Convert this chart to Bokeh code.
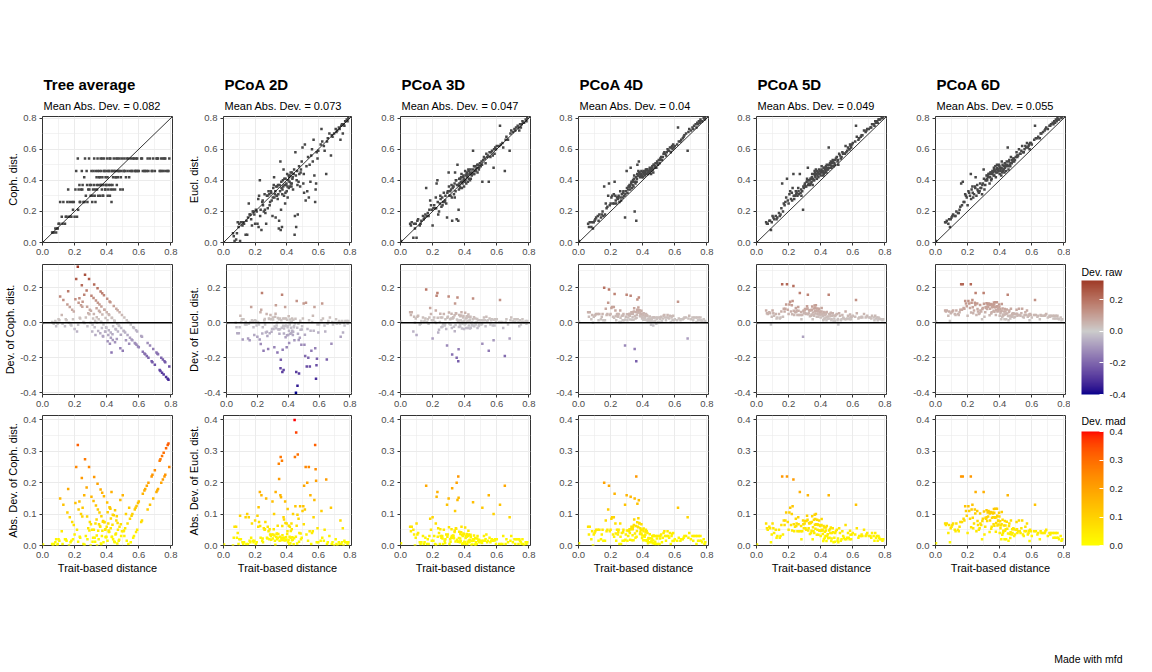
import numpy as np
from bokeh.plotting import figure
from bokeh.models import (Range1d, FixedTicker, PrintfTickFormatter, Slope, Span, Title,
                          LinearColorMapper, ColorBar, ColumnDataSource, Label)
from bokeh.layouts import row, column
from bokeh.embed import file_html
from bokeh.resources import INLINE

# ---------------- data ----------------
trait_dist = [0.003, 0.06, 0.07, 0.08, 0.085, 0.09, 0.10, 0.105, 0.11, 0.12, 0.13, 0.14, 0.15, 0.155,
              0.16, 0.165, 0.17, 0.18, 0.185, 0.19, 0.20, 0.205, 0.21, 0.22, 0.222, 0.225, 0.23, 0.235,
              0.24, 0.245, 0.25, 0.255, 0.26, 0.265, 0.27, 0.275, 0.28, 0.285, 0.29, 0.295, 0.30, 0.305,
              0.31, 0.315, 0.32, 0.322, 0.325, 0.33, 0.333, 0.337, 0.34, 0.343, 0.347, 0.35, 0.352, 0.355,
              0.36, 0.362, 0.364, 0.367, 0.37, 0.373, 0.376, 0.38, 0.383, 0.386, 0.39, 0.393, 0.396,
              0.40, 0.403, 0.406, 0.41, 0.413, 0.416, 0.42, 0.423, 0.426, 0.43, 0.433, 0.436, 0.44, 0.444,
              0.45, 0.452, 0.455, 0.46, 0.463, 0.466, 0.47, 0.475, 0.48, 0.485, 0.49, 0.50, 0.505, 0.51,
              0.515, 0.52, 0.53, 0.535, 0.54, 0.55, 0.555, 0.56, 0.57, 0.575, 0.58, 0.583, 0.586, 0.59,
              0.60, 0.62, 0.625, 0.64, 0.65, 0.66, 0.67, 0.68, 0.69, 0.70, 0.71, 0.72, 0.73, 0.74, 0.745,
              0.75, 0.755, 0.76, 0.77, 0.78, 0.79,
              0.065, 0.095, 0.125, 0.145, 0.175, 0.195, 0.215, 0.232, 0.248, 0.262,
              0.278, 0.292, 0.302, 0.312, 0.318, 0.328, 0.338, 0.345, 0.358, 0.366,
              0.372, 0.378, 0.385, 0.392, 0.398, 0.405, 0.412, 0.418, 0.425, 0.432,
              0.438, 0.447, 0.458, 0.468, 0.478, 0.488, 0.495, 0.508, 0.525, 0.545,
              0.565, 0.595, 0.615, 0.635, 0.655, 0.685, 0.715, 0.735, 0.765, 0.785]

coph_dist = [0.00, 0.065, 0.065, 0.09, 0.065, 0.09, 0.12, 0.12, 0.26, 0.165, 0.26, 0.12, 0.165, 0.26,
             0.34, 0.165, 0.26, 0.165, 0.26, 0.21, 0.165, 0.34, 0.46, 0.54, 0.21, 0.34, 0.37, 0.26,
             0.34, 0.46, 0.37, 0.26, 0.42, 0.54, 0.30, 0.46, 0.26, 0.34, 0.54, 0.37, 0.30, 0.46,
             0.26, 0.34, 0.37, 0.54, 0.30, 0.26, 0.46, 0.42, 0.34, 0.54, 0.30, 0.37, 0.42, 0.46,
             0.30, 0.54, 0.37, 0.46, 0.34, 0.42, 0.30, 0.37, 0.54, 0.46, 0.34, 0.42, 0.37,
             0.46, 0.54, 0.30, 0.34, 0.37, 0.46, 0.30, 0.54, 0.34, 0.26, 0.46, 0.37, 0.42, 0.54,
             0.46, 0.34, 0.42, 0.54, 0.37, 0.46, 0.42, 0.46, 0.54, 0.34, 0.46, 0.34, 0.46, 0.54,
             0.46, 0.42, 0.46, 0.54, 0.42, 0.54, 0.46, 0.46, 0.54, 0.46, 0.46, 0.54, 0.46, 0.54,
             0.46, 0.54, 0.46, 0.46, 0.46, 0.46, 0.54, 0.46, 0.54, 0.46, 0.54, 0.54, 0.46, 0.54, 0.46,
             0.54, 0.46, 0.54, 0.46, 0.46, 0.54,
             0.065, 0.09, 0.12, 0.165, 0.165, 0.26, 0.165, 0.26, 0.34, 0.26,
             0.37, 0.34, 0.37, 0.30, 0.46, 0.34, 0.37, 0.46, 0.42, 0.37,
             0.54, 0.30, 0.46, 0.34, 0.37, 0.42, 0.46, 0.54, 0.37, 0.46,
             0.34, 0.46, 0.42, 0.54, 0.46, 0.42, 0.54, 0.46, 0.54, 0.46,
             0.54, 0.46, 0.54, 0.46, 0.54, 0.46, 0.54, 0.46, 0.54, 0.46]

eucl_2d = [0.00, 0.06, 0.01, 0.02, 0.06, 0.13, 0.12, 0.01, 0.13, 0.11, 0.12, 0.05, 0.05, 0.16,
           0.25, 0.18, 0.18, 0.11, 0.20, 0.20, 0.12, 0.21, 0.20, 0.28, 0.10, 0.30, 0.40, 0.21,
           0.08, 0.26, 0.24, 0.20, 0.31, 0.19, 0.12, 0.30, 0.22, 0.33, 0.31, 0.26, 0.33, 0.27,
           0.17, 0.35, 0.42, 0.29, 0.31, 0.16, 0.36, 0.30, 0.36, 0.28, 0.31, 0.09, 0.14, 0.37,
           0.52, 0.08, 0.21, 0.35, 0.10, 0.34, 0.40, 0.47, 0.30, 0.37, 0.25, 0.41, 0.37,
           0.33, 0.44, 0.29, 0.40, 0.35, 0.42, 0.36, 0.43, 0.38, 0.36, 0.45, 0.41, 0.34, 0.44,
           0.05, 0.17, 0.58, 0.10, 0.40, 0.46, 0.18, 0.39, 0.44, 0.36, 0.47, 0.61, 0.38, 0.32,
           0.63, 0.27, 0.33, 0.55, 0.29, 0.39, 0.56, 0.60, 0.66, 0.43, 0.26, 0.34, 0.38, 0.58,
           0.59, 0.73, 0.65, 0.59, 0.44, 0.67, 0.70, 0.56, 0.68, 0.70, 0.73, 0.72, 0.74, 0.66, 0.75,
           0.76, 0.70, 0.76, 0.78, 0.79, 0.80,
           0.04, 0.10, 0.13, 0.14, 0.15, 0.18, 0.12, 0.17, 0.27, 0.21,
           0.30, 0.24, 0.32, 0.29, 0.37, 0.33, 0.30, 0.37, 0.33, 0.39,
           0.31, 0.36, 0.41, 0.32, 0.38, 0.36, 0.43, 0.39, 0.45, 0.38,
           0.42, 0.47, 0.43, 0.37, 0.49, 0.45, 0.52, 0.44, 0.49, 0.50,
           0.52, 0.54, 0.63, 0.62, 0.65, 0.69, 0.71, 0.73, 0.75, 0.78]

eucl_3d = [0.01, 0.12, 0.13, 0.03, 0.12, 0.09, 0.03, 0.14, 0.15, 0.11, 0.14, 0.17, 0.16, 0.18,
           0.35, 0.17, 0.19, 0.21, 0.27, 0.24, 0.11, 0.22, 0.24, 0.29, 0.22, 0.38, 0.40, 0.18,
           0.20, 0.25, 0.28, 0.23, 0.29, 0.26, 0.32, 0.26, 0.30, 0.25, 0.16, 0.33, 0.45, 0.30,
           0.33, 0.34, 0.29, 0.14, 0.35, 0.36, 0.31, 0.38, 0.45, 0.33, 0.40, 0.15, 0.37, 0.50,
           0.14, 0.21, 0.34, 0.38, 0.36, 0.41, 0.39, 0.44, 0.35, 0.38, 0.42, 0.40, 0.36,
           0.39, 0.46, 0.43, 0.38, 0.45, 0.42, 0.39, 0.47, 0.41, 0.44, 0.40, 0.47, 0.44, 0.43,
           0.47, 0.59, 0.44, 0.44, 0.46, 0.49, 0.46, 0.48, 0.45, 0.50, 0.48, 0.49, 0.52, 0.39,
           0.53, 0.55, 0.51, 0.57, 0.55, 0.39, 0.58, 0.55, 0.59, 0.56, 0.48, 0.60, 0.57, 0.61,
           0.62, 0.75, 0.63, 0.61, 0.46, 0.68, 0.66, 0.59, 0.72, 0.71, 0.73, 0.74, 0.75, 0.72, 0.76,
           0.74, 0.76, 0.78, 0.77, 0.79, 0.80,
           0.11, 0.12, 0.12, 0.15, 0.17, 0.21, 0.22, 0.26, 0.30, 0.24,
           0.27, 0.32, 0.36, 0.30, 0.37, 0.36, 0.29, 0.40, 0.37, 0.41,
           0.35, 0.42, 0.39, 0.43, 0.41, 0.40, 0.44, 0.43, 0.46, 0.45,
           0.41, 0.45, 0.49, 0.47, 0.50, 0.47, 0.51, 0.50, 0.54, 0.56,
           0.58, 0.60, 0.62, 0.64, 0.66, 0.70, 0.72, 0.74, 0.77, 0.78]

eucl_4d = [0.01, 0.12, 0.13, 0.10, 0.13, 0.09, 0.14, 0.15, 0.16, 0.17, 0.18, 0.16, 0.20, 0.17,
           0.36, 0.18, 0.25, 0.23, 0.30, 0.38, 0.25, 0.29, 0.30, 0.31, 0.25, 0.39, 0.30, 0.25,
           0.29, 0.28, 0.30, 0.26, 0.33, 0.27, 0.31, 0.29, 0.33, 0.30, 0.16, 0.33, 0.46, 0.32,
           0.34, 0.36, 0.36, 0.34, 0.48, 0.39, 0.35, 0.37, 0.40, 0.36, 0.43, 0.20, 0.39, 0.38,
           0.14, 0.39, 0.41, 0.50, 0.43, 0.46, 0.52, 0.45, 0.42, 0.43, 0.44, 0.43, 0.42,
           0.45, 0.42, 0.46, 0.44, 0.43, 0.45, 0.47, 0.44, 0.44, 0.47, 0.44, 0.46, 0.45, 0.48,
           0.46, 0.44, 0.47, 0.49, 0.47, 0.45, 0.50, 0.48, 0.51, 0.48, 0.52, 0.53, 0.51, 0.54,
           0.55, 0.53, 0.57, 0.58, 0.57, 0.58, 0.60, 0.59, 0.61, 0.58, 0.61, 0.62, 0.60, 0.63,
           0.62, 0.74, 0.65, 0.66, 0.67, 0.69, 0.70, 0.59, 0.73, 0.72, 0.74, 0.75, 0.76, 0.77, 0.76,
           0.78, 0.77, 0.79, 0.78, 0.80, 0.80,
           0.10, 0.13, 0.14, 0.18, 0.22, 0.24, 0.25, 0.27, 0.29, 0.29,
           0.32, 0.31, 0.35, 0.36, 0.37, 0.38, 0.39, 0.41, 0.42, 0.44,
           0.43, 0.45, 0.44, 0.46, 0.43, 0.45, 0.44, 0.46, 0.47, 0.45,
           0.46, 0.47, 0.48, 0.50, 0.49, 0.51, 0.50, 0.53, 0.55, 0.56,
           0.59, 0.61, 0.63, 0.65, 0.68, 0.71, 0.73, 0.74, 0.78, 0.79]

eucl_5d = [0.00, 0.13, 0.12, 0.14, 0.14, 0.08, 0.17, 0.16, 0.15, 0.17, 0.16, 0.19, 0.18, 0.22,
           0.38, 0.20, 0.25, 0.26, 0.29, 0.41, 0.25, 0.31, 0.33, 0.32, 0.27, 0.35, 0.44, 0.28,
           0.30, 0.33, 0.32, 0.30, 0.35, 0.31, 0.44, 0.32, 0.30, 0.33, 0.21, 0.35, 0.37, 0.36,
           0.36, 0.41, 0.48, 0.37, 0.38, 0.40, 0.37, 0.41, 0.38, 0.39, 0.44, 0.37, 0.41, 0.40,
           0.40, 0.46, 0.43, 0.42, 0.47, 0.44, 0.41, 0.43, 0.45, 0.42, 0.47, 0.44, 0.46,
           0.43, 0.45, 0.49, 0.46, 0.45, 0.43, 0.44, 0.48, 0.47, 0.46, 0.49, 0.45, 0.47, 0.48,
           0.61, 0.50, 0.48, 0.50, 0.52, 0.48, 0.51, 0.53, 0.49, 0.51, 0.53, 0.55, 0.52, 0.50,
           0.57, 0.56, 0.55, 0.58, 0.57, 0.57, 0.62, 0.58, 0.61, 0.60, 0.60, 0.63, 0.62, 0.61,
           0.64, 0.75, 0.68, 0.67, 0.68, 0.69, 0.72, 0.71, 0.73, 0.73, 0.74, 0.76, 0.76, 0.78, 0.77,
           0.78, 0.77, 0.79, 0.79, 0.80, 0.81,
           0.12, 0.13, 0.15, 0.17, 0.24, 0.27, 0.28, 0.30, 0.31, 0.33,
           0.34, 0.36, 0.38, 0.39, 0.40, 0.40, 0.41, 0.42, 0.44, 0.45,
           0.44, 0.46, 0.45, 0.44, 0.46, 0.47, 0.46, 0.48, 0.45, 0.48,
           0.50, 0.47, 0.51, 0.49, 0.52, 0.50, 0.54, 0.53, 0.54, 0.57,
           0.59, 0.63, 0.65, 0.66, 0.69, 0.72, 0.74, 0.75, 0.79, 0.80]

eucl_6d = [0.01, 0.13, 0.14, 0.12, 0.15, 0.10, 0.16, 0.17, 0.18, 0.17, 0.20, 0.19, 0.21, 0.23,
           0.38, 0.24, 0.39, 0.26, 0.31, 0.30, 0.24, 0.33, 0.32, 0.44, 0.28, 0.34, 0.36, 0.29,
           0.31, 0.36, 0.42, 0.30, 0.37, 0.33, 0.32, 0.33, 0.35, 0.35, 0.31, 0.38, 0.47, 0.34,
           0.37, 0.40, 0.41, 0.40, 0.43, 0.44, 0.44, 0.38, 0.42, 0.45, 0.40, 0.41, 0.44, 0.46,
           0.45, 0.43, 0.48, 0.43, 0.46, 0.49, 0.42, 0.47, 0.50, 0.45, 0.47, 0.46, 0.50,
           0.44, 0.48, 0.47, 0.43, 0.52, 0.45, 0.46, 0.47, 0.49, 0.45, 0.48, 0.50, 0.46, 0.52,
           0.61, 0.49, 0.47, 0.53, 0.50, 0.49, 0.55, 0.51, 0.52, 0.54, 0.52, 0.55, 0.58, 0.55,
           0.56, 0.60, 0.57, 0.59, 0.62, 0.58, 0.60, 0.62, 0.64, 0.61, 0.62, 0.63, 0.60, 0.64,
           0.63, 0.75, 0.67, 0.68, 0.67, 0.70, 0.71, 0.72, 0.74, 0.73, 0.75, 0.76, 0.77, 0.78, 0.77,
           0.79, 0.78, 0.80, 0.79, 0.81, 0.81,
           0.13, 0.15, 0.17, 0.19, 0.26, 0.29, 0.30, 0.32, 0.35, 0.34,
           0.38, 0.37, 0.41, 0.40, 0.43, 0.42, 0.44, 0.45, 0.46, 0.47,
           0.46, 0.45, 0.48, 0.47, 0.49, 0.46, 0.48, 0.50, 0.47, 0.51,
           0.49, 0.50, 0.52, 0.51, 0.53, 0.54, 0.53, 0.56, 0.57, 0.58,
           0.61, 0.64, 0.66, 0.67, 0.70, 0.73, 0.75, 0.76, 0.79, 0.80]

panel_titles = ["Tree average", "PCoA 2D", "PCoA 3D", "PCoA 4D", "PCoA 5D", "PCoA 6D"]
mean_abs_dev = ["0.082", "0.073", "0.047", "0.04", "0.049", "0.055"]
dist_names = ["Coph. dist.", "Eucl. dist.", None, None, None, None]
axis_ticks = [0.0, 0.2, 0.4, 0.6, 0.8]
dev_raw_ticks = [-0.4, -0.2, 0.0, 0.2]
dev_mad_ticks = [0.0, 0.1, 0.2, 0.3, 0.4]

series = [coph_dist, eucl_2d, eucl_3d, eucl_4d, eucl_5d, eucl_6d]

# ---------------- colour palettes (Lab interpolation, like ggplot) ----------------
M = np.array([[0.4124564, 0.3575761, 0.1804375],
              [0.2126729, 0.7151522, 0.0721750],
              [0.0193339, 0.1191920, 0.9503041]])
WHITE = np.array([0.95047, 1.0, 1.08883])


def hex_to_lab(h):
    c = np.array([int(h[i:i + 2], 16) for i in (1, 3, 5)], float) / 255.0
    c = np.where(c <= 0.04045, c / 12.92, ((c + 0.055) / 1.055) ** 2.4)
    xyz = M @ c / WHITE
    f = np.where(xyz > 216 / 24389, np.cbrt(xyz), (24389 / 27 * xyz + 16) / 116)
    return np.array([116 * f[1] - 16, 500 * (f[0] - f[1]), 200 * (f[1] - f[2])])


def lab_to_hex(lab):
    L, a, b = lab
    fy = (L + 16) / 116
    fx = fy + a / 500
    fz = fy - b / 200

    def finv(t):
        return t ** 3 if t ** 3 > 216 / 24389 else (116 * t - 16) / (24389 / 27)
    xyz = np.array([finv(fx), finv(fy), finv(fz)]) * WHITE
    c = np.linalg.inv(M) @ xyz
    c = np.clip(c, 0, None)
    c = np.where(c <= 0.0031308, 12.92 * c, 1.055 * np.power(c, 1 / 2.4) - 0.055)
    c = np.clip(np.round(c * 255), 0, 255).astype(int)
    return "#%02x%02x%02x" % tuple(c)


def mix(h1, h2, t):
    return lab_to_hex((1 - t) * hex_to_lab(h1) + t * hex_to_lab(h2))


RAW_LO, RAW_HI = -0.40, 0.32
raw_palette = []
for i in range(256):
    v = RAW_LO + (RAW_HI - RAW_LO) * i / 255
    t = v / 0.8 + 0.5
    if t <= 0.5:
        raw_palette.append(mix("#00008b", "#cccccc", t / 0.5))
    else:
        raw_palette.append(mix("#cccccc", "#8b0000", (t - 0.5) / 0.5))
mad_palette = [mix("#ffff00", "#ff0000", i / 255) for i in range(256)]

raw_mapper = LinearColorMapper(palette=raw_palette, low=RAW_LO, high=RAW_HI)
mad_mapper = LinearColorMapper(palette=mad_palette, low=0.0, high=0.40)

FONT = "Liberation Sans"
col_widths = [185, 179, 178, 178, 179, 171]
col_left = [42, 36, 36, 36, 36, 36]
FRAME_W = 130

row_cfg = [  # (height, top border, bottom border, y range, ticks, minor ticks)
    (263, 116, 21, (0.0, 0.81), axis_ticks, [0.1, 0.3, 0.5, 0.7]),
    (151, 1, 20, (-0.41, 0.333), dev_raw_ticks, [-0.3, -0.1, 0.1, 0.3]),
    (165, 1, 34, (0.0, 0.414), dev_mad_ticks, [0.05, 0.15, 0.25, 0.35]),
]


def style_axis(ax, ticks, minor):
    ax.ticker = FixedTicker(ticks=ticks, minor_ticks=minor)
    ax.formatter = PrintfTickFormatter(format="%.1f")
    ax.axis_line_color = None
    ax.major_tick_line_color = "#333333"
    ax.major_tick_in = 0
    ax.major_tick_out = 3
    ax.minor_tick_line_color = None
    ax.major_label_text_font = FONT
    ax.major_label_text_font_size = "9.5px"
    ax.major_label_text_color = "#4d4d4d"
    ax.major_label_standoff = 2
    ax.axis_label_text_font = FONT
    ax.axis_label_text_font_size = "11px"
    ax.axis_label_text_font_style = "normal"
    ax.axis_label_text_color = "black"
    ax.axis_label_standoff = 1


def make_panel(c, r):
    h, bt, bb, yr, yt, ym = row_cfg[r]
    w = col_widths[c]
    bl = col_left[c]
    p = figure(width=w, height=h, x_range=Range1d(0, 0.81), y_range=Range1d(*yr),
               output_backend="svg", toolbar_location=None,
               min_border_left=bl, min_border_right=w - bl - FRAME_W,
               min_border_top=bt, min_border_bottom=bb,
               background_fill_color="white", border_fill_color="white")
    p.title.visible = False
    p.outline_line_color = "#333333"
    p.outline_line_width = 1
    style_axis(p.xaxis[0], axis_ticks, [0.1, 0.3, 0.5, 0.7])
    style_axis(p.yaxis[0], yt, ym)
    for g in (p.xgrid[0], p.ygrid[0]):
        g.grid_line_color = "#ebebeb"
        g.grid_line_width = 1
        g.minor_grid_line_color = "#ebebeb"
        g.minor_grid_line_width = 0.6

    xs = np.array(trait_dist)
    ys = np.array(series[c])
    dev = ys - xs
    src = ColumnDataSource(dict(x=xs, y=ys, dev=dev, mad=np.abs(dev)))
    name = dist_names[c]
    if r == 0:
        p.add_layout(Slope(gradient=1, y_intercept=0, line_color="black", line_width=0.8))
        p.scatter("x", "y", source=src, marker="square", size=2.5,
                  fill_color="#474747", line_color=None)
        if name:
            p.yaxis.axis_label = name
        sub = Title(text="Mean Abs. Dev. = " + mean_abs_dev[c], align="left",
                    text_font=FONT, text_font_size="11px", text_font_style="normal",
                    text_color="black", standoff=10, offset=1)
        p.add_layout(sub, "above")
        ttl = Title(text=panel_titles[c], align="left", text_font=FONT,
                    text_font_size="15px", text_font_style="bold",
                    text_color="black", standoff=0, offset=1)
        p.add_layout(ttl, "above")
    elif r == 1:
        p.add_layout(Span(location=0, dimension="width", line_color="black", line_width=1.3))
        p.scatter("x", "dev", source=src, marker="square", size=2.5,
                  fill_color={"field": "dev", "transform": raw_mapper}, line_color=None)
        if name:
            p.yaxis.axis_label = "Dev. of " + name
    else:
        p.scatter("x", "mad", source=src, marker="square", size=2.5,
                  fill_color={"field": "mad", "transform": mad_mapper}, line_color=None)
        if name:
            p.yaxis.axis_label = "Abs. Dev. of " + name
        p.xaxis.axis_label = "Trait-based distance"
    return p


def colorbar_fig(height, bottom, mapper, ticks, title, title_y):
    f = figure(width=76, height=height, output_backend="svg", toolbar_location=None,
               x_axis_type=None, y_axis_type=None,
               min_border_left=11, min_border_right=0, min_border_top=0,
               min_border_bottom=bottom,
               background_fill_color="white", border_fill_color="white")
    f.title.visible = False
    f.outline_line_color = None
    cb = ColorBar(color_mapper=mapper, ticker=FixedTicker(ticks=ticks),
                  formatter=PrintfTickFormatter(format="%.1f"),
                  orientation="vertical", location="bottom_left", width=22, height=114,
                  padding=0, margin=0,
                  major_label_text_font=FONT, major_label_text_font_size="9.5px",
                  major_label_text_color="#1a1a1a", label_standoff=6,
                  major_tick_line_color="white", major_tick_in=4, major_tick_out=0,
                  minor_tick_line_color=None, bar_line_color=None,
                  background_fill_alpha=0, border_line_color=None)
    f.add_layout(cb, "center")
    f.add_layout(Label(x=0, y=title_y, x_units="screen", y_units="screen", text=title,
                       text_align="left", text_baseline="middle", text_font=FONT,
                       text_font_size="10.5px", text_color="black"))
    return f


rows = []
for r in range(3):
    figs = [make_panel(c, r) for c in range(6)]
    if r == 1:
        figs.append(colorbar_fig(151, 20, raw_mapper, dev_raw_ticks, "Dev. raw", 123))
    elif r == 2:
        figs.append(colorbar_fig(165, 34, mad_mapper, dev_mad_ticks, "Dev. mad", 125))
    rows.append(row(*figs))

cap = figure(width=1136, height=84, output_backend="svg", toolbar_location=None,
             x_axis_type=None, y_axis_type=None, min_border=0,
             background_fill_color="white", border_fill_color="white")
cap.title.visible = False
cap.outline_line_color = None
cap.add_layout(Label(x=1122, y=5, x_units="screen", y_units="screen", text="Made with mfd",
                     text_align="right", text_baseline="middle", text_font=FONT,
                     text_font_size="10.5px", text_color="black"))

p = column(*rows, cap)
open("out.html", "w").write(file_html(p, INLINE, title="mfd quality"))
